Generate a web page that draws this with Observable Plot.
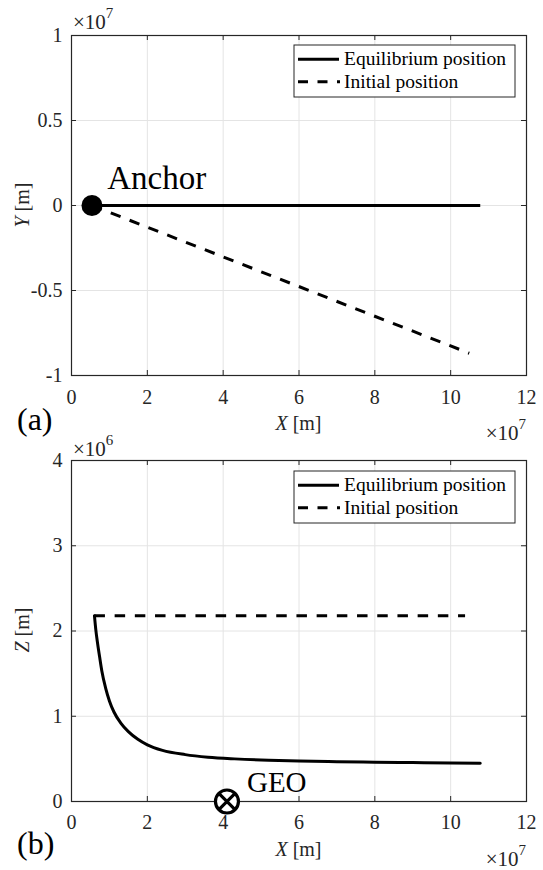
<!DOCTYPE html>
<html>
<head>
<meta charset="utf-8">
<script src="https://cdn.jsdelivr.net/npm/d3@7"></script>
<script src="https://cdn.jsdelivr.net/npm/@observablehq/plot@0.6"></script>
<style>
  html, body { margin: 0; padding: 0; background: #ffffff; }
  #chart { width: 543px; height: 870px; position: relative; }
  #chart svg { display: block; font-family: 'Liberation Serif', 'Times New Roman', serif; }
  #chart svg text { font-family: 'Liberation Serif', 'Times New Roman', serif; }
</style>
</head>
<body>
<div id="chart"></div>
<script>
// ---------------- data (metres) ----------------
// shared x ticks (×10^7 m)
const xTicks = [0, 2e7, 4e7, 6e7, 8e7, 10e7, 12e7];
// panel (a): X–Y plane
const yTicksA = [-1e7, -0.5e7, 0, 0.5e7, 1e7];
const anchorX = 5.4e6;
const anchorY = 0;
const eqA_x = [5.4e6, 1.078e8];
const eqA_y = [0, 0];
const initA_x = [5.4e6, 1.049e8];
const initA_y = [0, -8.69e6];
// panel (b): X–Z plane
const zTicksB = [0, 1e6, 2e6, 3e6, 4e6];
const eqB_x = [6.05e6, 6.4e6, 6.8e6, 7.4e6, 8.0e6, 9.0e6, 1.0e7, 1.12e7, 1.30e7, 1.50e7, 1.75e7, 2.0e7, 2.4e7, 3.0e7, 3.6e7, 4.3e7, 5.2e7, 6.0e7, 7.0e7, 8.0e7, 9.0e7, 1.0e8, 1.078e8];
const eqB_z = [2.18e6, 2.02e6, 1.88e6, 1.70e6, 1.53e6, 1.33e6, 1.18e6, 1.05e6, 0.92e6, 0.82e6, 0.73e6, 0.665e6, 0.60e6, 0.55e6, 0.52e6, 0.50e6, 0.483e6, 0.474e6, 0.467e6, 0.461e6, 0.457e6, 0.453e6, 0.45e6];
const initB_x = [6.05e6, 1.038e8];
const initB_z = [2.18e6, 2.18e6];
const geoX = 4.1e7;
const geoZ = 0;
const legendLabels = ["Equilibrium position", "Initial position"];

// ---------------- style ----------------
const W = 543, ML = 71, MR = 17, TL = 5;
const FONT = "'Liberation Serif', 'Times New Roman', serif";
const AX = "#262626", GRID = "#e4e4e4";
const DASH = "10.5,9.7";

const toRows = (xs, ys) => xs.map((x, i) => ({x, y: ys[i]}));

// circle with a cross (⊗)
const otimes = {
  draw(ctx, size) {
    const r = Math.sqrt(size / Math.PI);
    const a = r * Math.SQRT1_2;
    ctx.moveTo(r, 0);
    ctx.arc(0, 0, r, 0, 2 * Math.PI);
    ctx.moveTo(-a, -a); ctx.lineTo(a, a);
    ctx.moveTo(a, -a); ctx.lineTo(-a, a);
  }
};

function panel(o) {
  const fh = o.height - o.mt - o.mb, fw = W - ML - MR;
  const svg = Plot.plot({
    width: W, height: o.height,
    marginTop: o.mt, marginBottom: o.mb, marginLeft: ML, marginRight: MR,
    x: {domain: [0, 1.2e8]},
    y: {domain: o.yDomain},
    style: {fontFamily: FONT, fontSize: "20px", color: AX, background: "#ffffff", overflow: "visible"},
    marks: [
      Plot.gridX(xTicks, {stroke: GRID, strokeOpacity: 1, strokeWidth: 1}),
      Plot.gridY(o.yTicks, {stroke: GRID, strokeOpacity: 1, strokeWidth: 1}),
      Plot.axisX(xTicks, {tickSize: 0, tickPadding: o.xPad, tickFormat: d => String(d / 1e7), label: null, fontSize: 20, fontFamily: FONT}),
      Plot.axisY(o.yTicks, {tickSize: 0, tickPadding: 9, tickFormat: o.yFmt, label: null, fontSize: 20, fontFamily: FONT}),
      Plot.tickX(xTicks, {x: d => d, insetTop: fh - TL, stroke: AX}),
      Plot.tickX(xTicks, {x: d => d, insetBottom: fh - TL, stroke: AX}),
      Plot.tickY(o.yTicks, {y: d => d, insetRight: fw - TL, stroke: AX}),
      Plot.tickY(o.yTicks, {y: d => d, insetLeft: fw - TL, stroke: AX}),
      Plot.frame({stroke: AX, strokeWidth: 1.2}),
      ...o.marks
    ]
  });
  d3.select(svg).style("font-family", FONT).style("font-size", "20px");
  return svg;
}

function addText(svg, x, y, parts, opts = {}) {
  const t = d3.select(svg).append("text")
    .attr("x", x).attr("y", y)
    .attr("font-family", FONT)
    .attr("font-size", opts.size || 20)
    .attr("fill", opts.fill || AX)
    .attr("text-anchor", opts.anchor || "start")
    .style("text-anchor", opts.anchor || "start");
  if (opts.rotate) t.attr("transform", `rotate(${opts.rotate},${x},${y})`);
  for (const p of parts) {
    const s = t.append("tspan").text(p.t);
    if (p.italic) s.attr("font-style", "italic");
    if (p.size) s.attr("font-size", p.size);
    if (p.dy) s.attr("dy", p.dy);
  }
  return t;
}

function addExp(svg, x, y, exp, anchor) {
  addText(svg, x, y, [{t: "×10"}, {t: exp, size: 15, dy: -11}], {anchor, size: 21});
}

function addLegend(svg, x0, y0) {
  const g = d3.select(svg).append("g");
  g.append("rect").attr("x", x0).attr("y", y0).attr("width", 221).attr("height", 52)
    .attr("fill", "#ffffff").attr("stroke", AX).attr("stroke-width", 1);
  g.append("line").attr("x1", x0 + 4).attr("x2", x0 + 45).attr("y1", y0 + 14.3).attr("y2", y0 + 14.3)
    .attr("stroke", "#000").attr("stroke-width", 3);
  g.append("line").attr("x1", x0 + 4).attr("x2", x0 + 46).attr("y1", y0 + 36.7).attr("y2", y0 + 36.7)
    .attr("stroke", "#000").attr("stroke-width", 3).attr("stroke-dasharray", "10,9.5");
  legendLabels.forEach((lab, i) => {
    g.append("text").attr("x", x0 + 50).attr("y", y0 + (i === 0 ? 20 : 43.3))
      .attr("text-anchor", "start").style("text-anchor", "start")
      .attr("font-family", FONT).attr("font-size", 19.5).attr("fill", "#000").text(lab);
  });
}

// ---------------- panel (a) ----------------
const svgA = panel({
  height: 435, mt: 35, mb: 60, xPad: 14,
  yDomain: [-1e7, 1e7], yTicks: yTicksA,
  yFmt: d => String(d / 1e7),
  marks: [
    Plot.line(toRows(eqA_x, eqA_y), {x: "x", y: "y", stroke: "#000", strokeWidth: 3, strokeLinecap: "butt"}),
    Plot.line(toRows(initA_x, initA_y), {x: "x", y: "y", stroke: "#000", strokeWidth: 3, strokeLinecap: "butt", strokeDasharray: DASH}),
    Plot.dot([{x: anchorX, y: anchorY}], {x: "x", y: "y", r: 10.5, fill: "#000", stroke: "none"}),
    Plot.text([{x: anchorX, y: anchorY, label: "Anchor"}], {x: "x", y: "y", text: "label", dx: 15.3, dy: -26.6, textAnchor: "start", fontSize: 33, fill: "#000", fontFamily: FONT})
  ]
});
addLegend(svgA, 294, 45);
addExp(svgA, 73, 29, "7", "start");
addExp(svgA, 526, 440, "7", "end");
addText(svgA, 298.5, 430, [{t: "X", italic: true}, {t: " [m]"}], {anchor: "middle"});
addText(svgA, 29, 205, [{t: "Y", italic: true}, {t: " [m]"}], {anchor: "middle", rotate: -90});
addText(svgA, 17, 430, [{t: "(a)"}], {size: 32, fill: "#000"});

// ---------------- panel (b) ----------------
const svgB = panel({
  height: 435, mt: 25, mb: 69, xPad: 13,
  yDomain: [0, 4e6], yTicks: zTicksB,
  yFmt: d => String(d / 1e6),
  marks: [
    Plot.line(toRows(initB_x, initB_z), {x: "x", y: "y", stroke: "#000", strokeWidth: 3, strokeLinecap: "butt", strokeDasharray: DASH}),
    Plot.line(toRows(eqB_x, eqB_z), {x: "x", y: "y", stroke: "#000", strokeWidth: 3, curve: "monotone-x"}),
    Plot.dot([{x: geoX, y: geoZ}], {x: "x", y: "y", r: 11.5, symbol: otimes, fill: "#fff", stroke: "#000", strokeWidth: 3.2}),
    Plot.text([{x: geoX, y: geoZ, label: "GEO"}], {x: "x", y: "y", text: "label", dx: 20, dy: -19, textAnchor: "start", fontSize: 29, fill: "#000", fontFamily: FONT})
  ]
});
addLegend(svgB, 294, 36);
addExp(svgB, 73, 21, "6", "start");
addExp(svgB, 526, 431, "7", "end");
addText(svgB, 298.5, 421, [{t: "X", italic: true}, {t: " [m]"}], {anchor: "middle"});
addText(svgB, 29, 195, [{t: "Z", italic: true}, {t: " [m]"}], {anchor: "middle", rotate: -90});
addText(svgB, 17, 419, [{t: "(b)"}], {size: 32, fill: "#000"});

const chart = document.getElementById("chart");
chart.appendChild(svgA);
chart.appendChild(svgB);
</script>
</body>
</html>
